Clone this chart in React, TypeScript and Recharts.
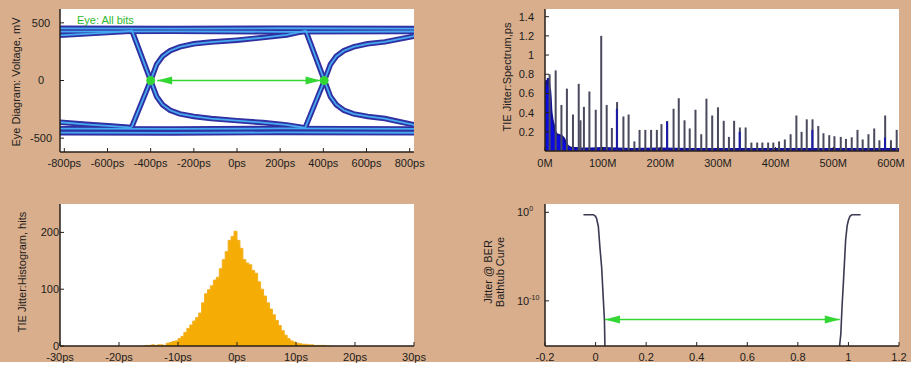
import React from 'react';
import { LineChart, Line, XAxis, YAxis, CartesianGrid, ComposedChart, Bar, Area, AreaChart } from 'recharts';

const TAN = '#D8AE8C';
const INK = '#1c1c1c';
const FRAME = '#2a2018';
const GREEN = '#33d633';
const FONT = '"Liberation Sans", Arial, sans-serif';

// ---- eye diagram traces: [time ps, voltage mV]
const eyeTopRailA = [[-820, 452], [-300, 450], [200, 453], [820, 450]];
const eyeTopRailB = [[-820, 424], [-300, 426], [200, 422], [820, 425]];
const eyeBotRailA = [[-820, -418], [-300, -420], [200, -416], [820, -420]];
const eyeBotRailB = [[-820, -452], [-300, -455], [200, -450], [820, -453]];
const eyePrevHigh = [[-820, 392], [-700, 405], [-580, 418], [-488, 430]];
const eyePrevLow = [[-820, -362], [-700, -380], [-580, -395], [-488, -408]];
const eyeFall1 = [[-488, 440], [-400, 0], [-372, -140], [-345, -210], [-310, -258], [-265, -290], [-200, -312], [-120, -330], [0, -348], [120, -365], [230, -385], [318, -412]];
const eyeRise1 = [[-488, -405], [-400, 0], [-372, 140], [-345, 210], [-310, 258], [-265, 292], [-200, 318], [-120, 333], [0, 350], [120, 372], [230, 395], [318, 430]];
const eyeFall2 = [[317, 440], [405, 0], [433, -140], [460, -210], [495, -258], [540, -290], [605, -312], [685, -330], [820, -385]];
const eyeRise2 = [[317, -405], [405, 0], [433, 140], [460, 210], [495, 258], [540, 292], [605, 318], [685, 335], [820, 385]];
const eyeCross = [[-400, 0], [404, 0]];
const eyeArrow = [[-370, 0], [387, 0]];
const eyeTicks = [-800, -600, -400, -200, 0, 200, 400, 600, 800];

// ---- jitter spectrum: frequency MHz, amplitude ps
const spikeFreqs = [8, 18.5, 28.5, 38, 48.5, 58.5, 61.5, 67.5, 77, 88, 97.5, 107, 116, 125, 136, 145, 155, 164, 174, 184, 194, 202, 212, 223, 232, 242, 251, 261, 271, 280, 290, 300, 310, 319, 328, 338, 348, 358, 368, 377, 387, 396, 406, 416, 426, 436, 445, 454, 464, 474, 483, 493, 502, 513, 522, 532, 542, 551, 561, 571, 580, 590, 600, 610];
const spikeAmps = [0.80, 0.84, 0.48, 0.65, 0.38, 0.70, 0.32, 0.46, 0.62, 0.43, 1.20, 0.48, 0.24, 0.51, 0.36, 0.38, 0.10, 0.22, 0.22, 0.22, 0.22, 0.28, 0.31, 0.44, 0.55, 0.32, 0.235, 0.43, 0.175, 0.545, 0.37, 0.455, 0.315, 0.147, 0.315, 0.245, 0.245, 0.088, 0.088, 0.088, 0.088, 0.088, 0.10, 0.12, 0.175, 0.37, 0.20, 0.33, 0.33, 0.26, 0.185, 0.165, 0.154, 0.147, 0.126, 0.143, 0.22, 0.12, 0.175, 0.235, 0.112, 0.37, 0.112, 0.22];
const blueFreqs = [125, 212, 338, 464, 590];
const blueAmps = [0.44, 0.31, 0.20, 0.22, 0.14];
const noiseFreqs = [0, 1, 2, 3, 4, 5, 6, 7, 8, 9, 10, 11, 12, 13, 14, 15, 16, 17, 18, 19, 20, 22, 24, 26, 28, 30, 32, 34, 36, 38, 40, 43, 46, 50, 55, 60, 80, 100, 150, 200, 250, 300, 350, 400, 450, 500, 550, 614];
const noiseAmps = [0.70, 0.73, 0.67, 0.74, 0.69, 0.76, 0.70, 0.72, 0.66, 0.63, 0.55, 0.42, 0.37, 0.33, 0.30, 0.28, 0.25, 0.22, 0.20, 0.19, 0.18, 0.17, 0.17, 0.16, 0.165, 0.15, 0.14, 0.12, 0.09, 0.07, 0.05, 0.04, 0.035, 0.03, 0.03, 0.025, 0.025, 0.03, 0.02, 0.025, 0.02, 0.02, 0.02, 0.02, 0.02, 0.02, 0.02, 0.02];
const specXTicks = [0, 100, 200, 300, 400, 500, 600];
const specYTicks = [0.2, 0.4, 0.6, 0.8, 1, 1.2, 1.4];

// ---- TIE histogram: bin ps, hits
const histBins = [-16, -15.5, -15, -14.5, -14, -13.5, -13, -12.5, -12, -11.5, -11, -10.5, -10, -9.5, -9, -8.5, -8, -7.5, -7, -6.5, -6, -5.5, -5, -4.5, -4, -3.5, -3, -2.5, -2, -1.5, -1, -0.5, 0, 0.5, 1, 1.5, 2, 2.5, 3, 3.5, 4, 4.5, 5, 5.5, 6, 6.5, 7, 7.5, 8, 8.5, 9, 9.5, 10, 10.5, 11, 11.5, 12, 12.5, 13, 13.5, 14, 14.5, 15, 15.5, 16];
const histHits = [0, 1, 1, 2, 1, 2, 2, 1, 5, 6, 8, 9, 13, 17, 24, 31, 37, 44, 50, 58, 76, 92, 99, 106, 116, 121, 136, 152, 166, 186, 193, 202, 186, 172, 152, 146, 143, 133, 128, 113, 100, 88, 76, 65, 55, 45, 36, 27, 19, 13, 9, 7, 5, 4, 3, 3, 2, 2, 1, 1, 1, 1, 0, 0, 0];
const histXTicks = [-30, -20, -10, 0, 10, 20, 30];
const histYTicks = [0, 100, 200];

// ---- bathtub: unit interval, log10(BER)
const tubLeft = [[-0.048, -0.27], [-0.009, -0.27], [0.0, -0.45], [0.004, -0.7], [0.011, -1.6], [0.017, -3.9], [0.024, -6.2], [0.031, -10.0], [0.035, -12.2], [0.037, -15.1]];
const tubRight = [[0.965, -15.1], [0.970, -13.7], [0.975, -10.5], [0.980, -8.0], [0.989, -3.1], [0.995, -1.5], [1.0, -0.9], [1.006, -0.45], [1.014, -0.27], [1.048, -0.27]];
const tubArrow = [[0.037, -12.1], [0.966, -12.1]];
const tubXTicks = [-0.2, 0, 0.2, 0.4, 0.6, 0.8, 1, 1.2];
const tubYTicks = [-10, 0];

const pts = (a: number[][]) => a.map(([t, v]) => ({ t, v }));

const tickStyle = { fill: INK, fontSize: 11, fontFamily: FONT };
const axisLine = { stroke: FRAME, strokeWidth: 1.5 };
const tickLine = { stroke: FRAME, strokeWidth: 1 };

function ArrowDot(props: any) {
  const { cx, cy, index } = props;
  const s = index === 0 ? 1 : -1;
  const d = `M${cx},${cy} L${cx + s * 15},${cy - 4} L${cx + s * 15},${cy + 4} Z`;
  return <path key={index} d={d} fill={GREEN} />;
}

function PowTick(props: any) {
  const { y, payload } = props;
  return (
    <text x={62} y={y + 4} fontSize={11} fontFamily={FONT} fill={INK}>
      <tspan>10</tspan>
      <tspan dy={-5} fontSize={7}>{payload.value}</tspan>
    </text>
  );
}

// thin spike drawn at a fixed width, centred on the bar's slot
function Spike(props: any) {
  const { x, y, width, height, fill } = props;
  if (!height || height <= 0) return <g />;
  return <rect x={x + width / 2 - 1} y={y} width={2} height={height} fill={fill} />;
}

function Title({ x, y, lines }: { x: number; y: number; lines: string[] }) {
  return (
    <div
      style={{
        position: 'absolute', left: x, top: y, transform: 'translate(-50%,-50%) rotate(-90deg)',
        whiteSpace: 'nowrap', fontSize: 11, lineHeight: '12px', textAlign: 'center', fontFamily: FONT, color: INK,
      }}
    >
      {lines.map((l) => <div key={l}>{l}</div>)}
    </div>
  );
}

const eyeTraces = [eyeTopRailA, eyeTopRailB, eyeBotRailA, eyeBotRailB, eyePrevHigh, eyePrevLow, eyeFall1, eyeRise1, eyeFall2, eyeRise2];

function EyeChart() {
  return (
    <LineChart width={460} height={184} margin={{ top: 9, right: 46, left: 0, bottom: 0 }}>
      <CartesianGrid horizontal={false} vertical={false} fill="#fff" stroke="none" />
      <XAxis dataKey="t" type="number" domain={[-820, 820]} ticks={eyeTicks} interval={0} allowDataOverflow height={32}
        tickFormatter={(v) => `${v}ps`} tick={tickStyle} axisLine={axisLine} tickLine={tickLine} tickSize={-4} tickMargin={11} />
      <XAxis xAxisId="top" orientation="top" type="number" domain={[-820, 820]} ticks={eyeTicks} height={0} tick={false}
        axisLine={axisLine} tickLine={tickLine} tickSize={-4} />
      <YAxis type="number" domain={[-620, 620]} ticks={[-500, 0, 500]} allowDataOverflow width={60}
        tick={{ ...tickStyle, textAnchor: 'middle' }} axisLine={axisLine} tickLine={tickLine} tickSize={-4} tickMargin={23} />
      <YAxis yAxisId="r" orientation="right" type="number" domain={[-620, 620]} ticks={[-500, 0, 500]} width={0} tick={false}
        axisLine={axisLine} tickLine={tickLine} tickSize={-4} />
      {eyeTraces.map((tr, i) => (
        <Line key={'o' + i} data={pts(tr)} dataKey="v" type="linear" stroke="#3030a2" strokeWidth={5.5} dot={false} isAnimationActive={false} />
      ))}
      {eyeTraces.map((tr, i) => (
        <Line key={'i' + i} data={pts(tr)} dataKey="v" type="linear" stroke="#45aaf0" strokeWidth={1.8} dot={false} isAnimationActive={false} />
      ))}
      <Line data={pts(eyeArrow)} dataKey="v" stroke={GREEN} strokeWidth={1.5} dot={<ArrowDot />} isAnimationActive={false} />
      <Line data={pts(eyeCross)} dataKey="v" stroke="none" dot={{ r: 4, fill: GREEN, stroke: GREEN }} isAnimationActive={false} />
    </LineChart>
  );
}

const specRows = spikeFreqs.map((f, i) => {
  const j = blueFreqs.indexOf(f);
  return { f, a: spikeAmps[i], b: j >= 0 ? blueAmps[j] : 0 };
});
const noiseRows = noiseFreqs.map((f, i) => ({ f, n: noiseAmps[i] }));

function SpectrumChart() {
  return (
    <ComposedChart width={456} height={184} data={specRows} margin={{ top: 9, right: 12, left: 0, bottom: 0 }}>
      <CartesianGrid horizontal={false} vertical={false} fill="#fff" stroke="none" />
      <XAxis dataKey="f" type="number" domain={[0, 614]} ticks={specXTicks} interval={0} allowDataOverflow height={33}
        tickFormatter={(v) => `${v}M`} tick={tickStyle} axisLine={axisLine} tickLine={tickLine} tickSize={-4} tickMargin={12} />
      <XAxis xAxisId="blue" dataKey="f" type="number" domain={[0, 614]} allowDataOverflow hide />
      <XAxis xAxisId="top" orientation="top" type="number" domain={[0, 614]} ticks={specXTicks} height={0} tick={false}
        axisLine={axisLine} tickLine={tickLine} tickSize={-4} />
      <YAxis type="number" domain={[0, 1.48]} ticks={specYTicks} allowDataOverflow width={90}
        tick={tickStyle} axisLine={axisLine} tickLine={tickLine} tickSize={-4} tickMargin={15} />
      <YAxis yAxisId="r" orientation="right" type="number" domain={[0, 1.48]} ticks={specYTicks} width={0} tick={false}
        axisLine={axisLine} tickLine={tickLine} tickSize={-4} />
      <Area data={noiseRows} dataKey="n" type="linear" fill="#0b0be0" fillOpacity={1} stroke="#10109a" strokeWidth={2} isAnimationActive={false} />
      <Bar dataKey="a" fill="#4a4a5e" shape={<Spike />} isAnimationActive={false} />
      <Bar dataKey="b" xAxisId="blue" fill="#1a1aa8" shape={<Spike />} isAnimationActive={false} />
    </ComposedChart>
  );
}

const histRows = histBins.map((t, i) => ({ t, h: histHits[i] }));

function HistChart() {
  return (
    <AreaChart width={460} height={184} data={histRows} margin={{ top: 20, right: 46, left: 0, bottom: 0 }}>
      <CartesianGrid horizontal={false} vertical={false} fill="#fff" stroke="none" />
      <XAxis dataKey="t" type="number" domain={[-30, 30]} ticks={histXTicks} interval={0} allowDataOverflow height={22}
        tickFormatter={(v) => `${v}ps`} tick={tickStyle} axisLine={axisLine} tickLine={tickLine} tickSize={-4} tickMargin={11} />
      <XAxis xAxisId="top" orientation="top" type="number" domain={[-30, 30]} ticks={histXTicks} height={0} tick={false}
        axisLine={axisLine} tickLine={tickLine} tickSize={-4} />
      <YAxis type="number" domain={[0, 250]} ticks={histYTicks} allowDataOverflow width={60}
        tick={tickStyle} axisLine={axisLine} tickLine={tickLine} tickSize={-4} tickMargin={5} />
      <YAxis yAxisId="r" orientation="right" type="number" domain={[0, 250]} ticks={histYTicks} width={0} tick={false}
        axisLine={axisLine} tickLine={tickLine} tickSize={-4} />
      <Area dataKey="h" type="stepAfter" fill="#F5AD05" fillOpacity={1} stroke="#F3B020" strokeWidth={1} isAnimationActive={false} />
    </AreaChart>
  );
}

function TubChart() {
  return (
    <LineChart width={456} height={184} margin={{ top: 20, right: 12, left: 0, bottom: 0 }}>
      <CartesianGrid horizontal={false} vertical={false} fill="#fff" stroke="none" />
      <XAxis dataKey="t" type="number" domain={[-0.2, 1.2]} ticks={tubXTicks} interval={0} allowDataOverflow height={22}
        tick={tickStyle} axisLine={axisLine} tickLine={tickLine} tickSize={-4} tickMargin={11} />
      <XAxis xAxisId="top" orientation="top" type="number" domain={[-0.2, 1.2]} ticks={tubXTicks} height={0} tick={false}
        axisLine={axisLine} tickLine={tickLine} tickSize={-4} />
      <YAxis type="number" domain={[-15.1, 0.94]} ticks={tubYTicks} allowDataOverflow width={90}
        tick={<PowTick />} axisLine={axisLine} tickLine={tickLine} tickSize={-4} />
      <YAxis yAxisId="r" orientation="right" type="number" domain={[-15.1, 0.94]} ticks={tubYTicks} width={0} tick={false}
        axisLine={axisLine} tickLine={tickLine} tickSize={-4} />
      <Line data={pts(tubLeft)} dataKey="v" stroke="#3a3a52" strokeWidth={1.6} dot={false} isAnimationActive={false} />
      <Line data={pts(tubRight)} dataKey="v" stroke="#3a3a52" strokeWidth={1.6} dot={false} isAnimationActive={false} />
      <Line data={pts(tubArrow)} dataKey="v" stroke={GREEN} strokeWidth={1.5} dot={<ArrowDot />} isAnimationActive={false} />
    </LineChart>
  );
}

export default function App() {
  return (
    <div style={{ position: 'absolute', left: 0, top: 0, width: 911, height: 368, background: '#fff', overflow: 'hidden' }}>
      <div style={{ position: 'absolute', left: 0, top: 0, width: 911, height: 362, background: TAN }} />
      <div style={{ position: 'absolute', left: 0, top: 0 }}><EyeChart /></div>
      <div style={{ position: 'absolute', left: 455, top: 0 }}><SpectrumChart /></div>
      <div style={{ position: 'absolute', left: 0, top: 184 }}><HistChart /></div>
      <div style={{ position: 'absolute', left: 455, top: 184 }}><TubChart /></div>
      <div style={{ position: 'absolute', left: 77, top: 14, fontSize: 11, lineHeight: '13px', fontFamily: FONT, color: '#2eb82e' }}>Eye: All bits</div>
      <Title x={16} y={82} lines={['Eye Diagram: Voltage, mV']} />
      <Title x={507} y={77} lines={['TIE Jitter:Spectrum,ps']} />
      <Title x={22} y={272} lines={['TIE Jitter:Histogram, hits']} />
      <Title x={494} y={272} lines={['Jitter @ BER', 'Bathtub Curve']} />
    </div>
  );
}
